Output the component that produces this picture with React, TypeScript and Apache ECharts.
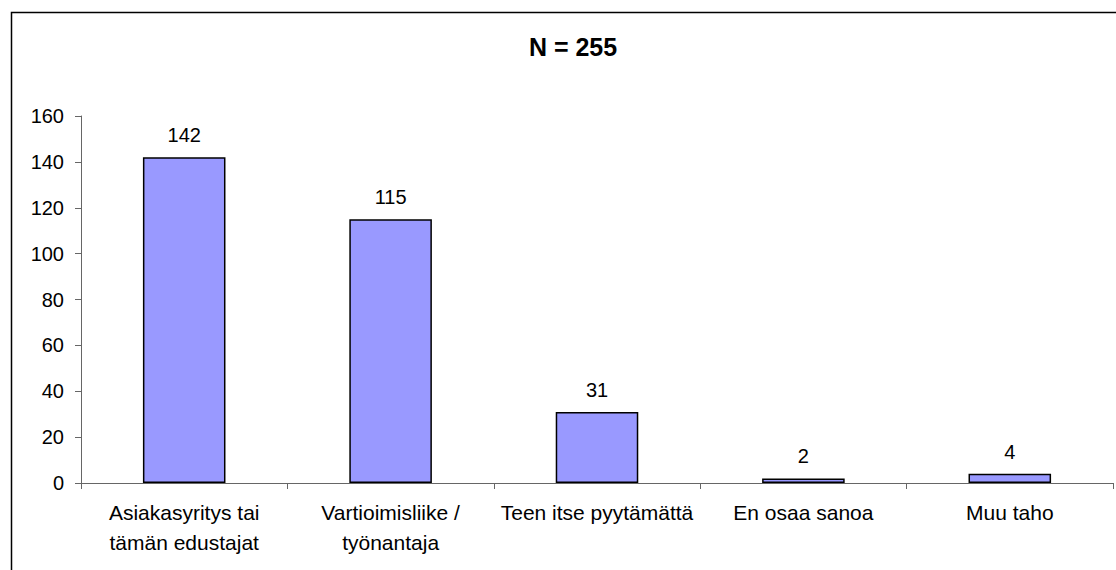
import React, { useEffect, useRef } from "react";
import * as echarts from "echarts";

const categories = ["Asiakasyritys tai\ntämän edustajat", "Vartioimisliike /\ntyönantaja", "Teen itse pyytämättä", "En osaa sanoa", "Muu taho"];
const values = [142, 115, 31, 2, 4];
const titleText = "N = 255";

export default function App() {
  const ref = useRef<HTMLDivElement>(null);
  useEffect(() => {
    const chart = echarts.init(ref.current!, null, { renderer: "svg" });
    const font = "Liberation Sans, Arial, sans-serif";
    chart.setOption({
      animation: false,
      backgroundColor: "#fff",
      title: {
        text: titleText,
        left: 568,
        textAlign: "center",
        top: 29,
        textStyle: { fontFamily: font, fontSize: 25, fontWeight: "bold", color: "#000" },
      },
      graphic: [
        {
          type: "rect",
          shape: { x: 11.5, y: 12.5, width: 1200, height: 700 },
          style: { fill: "none", stroke: "#000", lineWidth: 1.5 },
          silent: true,
        },
      ],
      grid: { left: 81, right: 3, top: 116, bottom: 87 },
      xAxis: {
        type: "category",
        data: categories,
        boundaryGap: true,
        axisLine: { lineStyle: { color: "#666", width: 1 } },
        axisTick: { show: true, alignWithLabel: false, length: 6, lineStyle: { color: "#666" } },
        axisLabel: { fontFamily: font, fontSize: 21, color: "#000", margin: 14, lineHeight: 30, interval: 0 },
      },
      yAxis: {
        type: "value",
        min: 0,
        max: 160,
        interval: 20,
        splitLine: { show: false },
        axisLine: { show: true, lineStyle: { color: "#666", width: 1 } },
        axisTick: { show: true, length: 6, lineStyle: { color: "#666" } },
        axisLabel: { fontFamily: font, fontSize: 20, color: "#000", margin: 17 },
      },
      series: [
        {
          type: "bar",
          data: values,
          barWidth: "40%",
          itemStyle: { color: "#9999FF", borderColor: "#000", borderWidth: 1.5 },
          label: { show: true, position: "top", distance: 12, fontFamily: font, fontSize: 20, color: "#000" },
        },
      ],
    });
    return () => chart.dispose();
  }, []);
  return <div ref={ref} style={{ position: "absolute", left: 0, top: 0, width: 1116, height: 570 }} />;
}
